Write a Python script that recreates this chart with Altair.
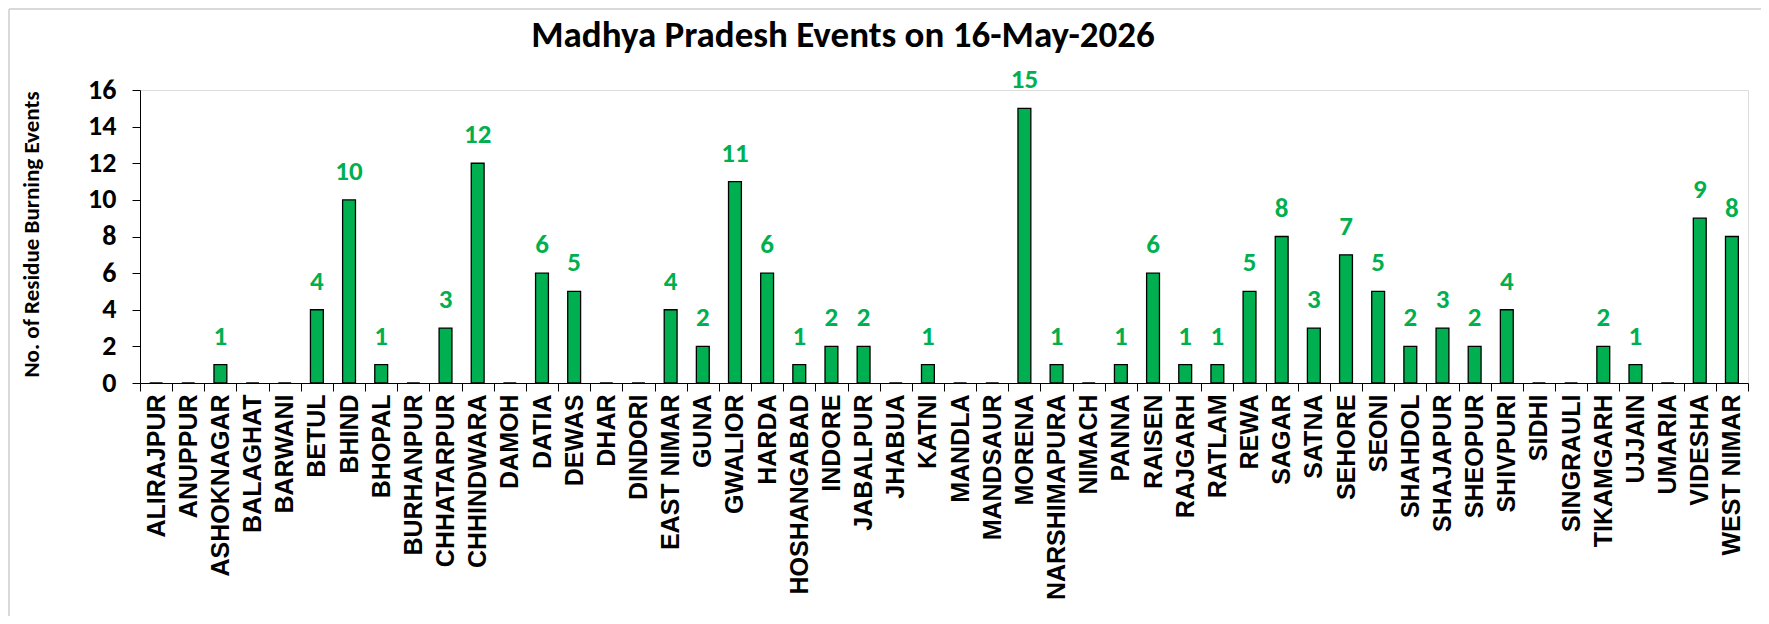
import altair as alt
import pandas as pd

districts = ["ALIRAJPUR", "ANUPPUR", "ASHOKNAGAR", "BALAGHAT", "BARWANI", "BETUL", "BHIND",
             "BHOPAL", "BURHANPUR", "CHHATARPUR", "CHHINDWARA", "DAMOH", "DATIA", "DEWAS",
             "DHAR", "DINDORI", "EAST NIMAR", "GUNA", "GWALIOR", "HARDA", "HOSHANGABAD",
             "INDORE", "JABALPUR", "JHABUA", "KATNI", "MANDLA", "MANDSAUR", "MORENA",
             "NARSHIMAPURA", "NIMACH", "PANNA", "RAISEN", "RAJGARH", "RATLAM", "REWA",
             "SAGAR", "SATNA", "SEHORE", "SEONI", "SHAHDOL", "SHAJAPUR", "SHEOPUR",
             "SHIVPURI", "SIDHI", "SINGRAULI", "TIKAMGARH", "UJJAIN", "UMARIA", "VIDESHA",
             "WEST NIMAR"]
events = [0, 0, 1, 0, 0, 4, 10,
          1, 0, 3, 12, 0, 6, 5,
          0, 0, 4, 2, 11, 6, 1,
          2, 2, 0, 1, 0, 0, 15,
          1, 0, 1, 6, 1, 1, 5,
          8, 3, 7, 5, 2, 3, 2,
          4, 0, 0, 2, 1, 0, 9,
          8]
y_ticks = [0, 2, 4, 6, 8, 10, 12, 14, 16]

title_text = "Madhya Pradesh Events on 16-May-2026"
y_title = "No. of Residue Burning Events"

df = pd.DataFrame({"district": districts, "events": events})

GREEN = "#00B050"
CAL = "Carlito, Lato, sans-serif"
W, H = 1608, 293

x_enc = alt.X("district:N", sort=districts, title=None,
              scale=alt.Scale(paddingInner=0, paddingOuter=0),
              axis=alt.Axis(labelAngle=270, labelFont="Liberation Sans", labelFontWeight="bold",
                            labelFontSize=25, labelColor="black", labelLimit=400,
                            labelOverlap=False, labelPadding=3, tickBand="extent",
                            tickSize=8, tickColor="black", domainColor="black",
                            tickWidth=1, domainWidth=1))
y_enc = alt.Y("events:Q", title=y_title,
              scale=alt.Scale(domain=[0, 16], nice=False),
              axis=alt.Axis(values=y_ticks, tickCount=9, grid=False, tickSize=8,
                            tickColor="black", domainColor="black", labelOverlap=False,
                            labelFont=CAL, labelFontWeight="bold",
                            labelFontSize=28, labelColor="black", labelPadding=16,
                            titleFont=CAL, titleFontWeight="bold", titleFontSize=23,
                            titleColor="black", titleX=-109, titleY=144, titleAngle=270,
                            titleAlign="center", titleBaseline="middle"))

bars = alt.Chart(df).mark_bar(width=alt.RelativeBandSize(0.4), color=GREEN,
                               stroke="black", strokeWidth=1.3).encode(x=x_enc, y=y_enc)

labels = alt.Chart(df).transform_filter(alt.datum.events > 0).mark_text(
    font=CAL, fontWeight="bold", fontSize=27, color=GREEN, baseline="alphabetic", dy=-20
).encode(x=alt.X("district:N", sort=districts), y="events:Q", text="events:Q")

one = pd.DataFrame({"k": [0]})
border_left = alt.Chart(one).mark_rule(color="#d9d9d9", strokeWidth=2).encode(
    x=alt.value(-131), y=alt.value(-81), y2=alt.value(H + 240))
border_top = alt.Chart(one).mark_rule(color="#d9d9d9", strokeWidth=2).encode(
    x=alt.value(-131), x2=alt.value(W + 20), y=alt.value(-81))

chart = alt.layer(border_left, border_top, bars, labels).properties(
    width=W, height=H,
    title=alt.TitleParams(title_text, font=CAL, fontWeight="bold", fontSize=37,
                          color="black", anchor="middle", dx=-101, baseline="alphabetic",
                          offset=0, dy=76),
    autosize=alt.AutoSizeParams(type="none"),
    padding={"left": 132, "top": 82, "right": 13, "bottom": 233},
).configure_view(stroke=None).configure(background="white")

chart.save("out.html", embed_options={"renderer": "svg", "actions": False})
